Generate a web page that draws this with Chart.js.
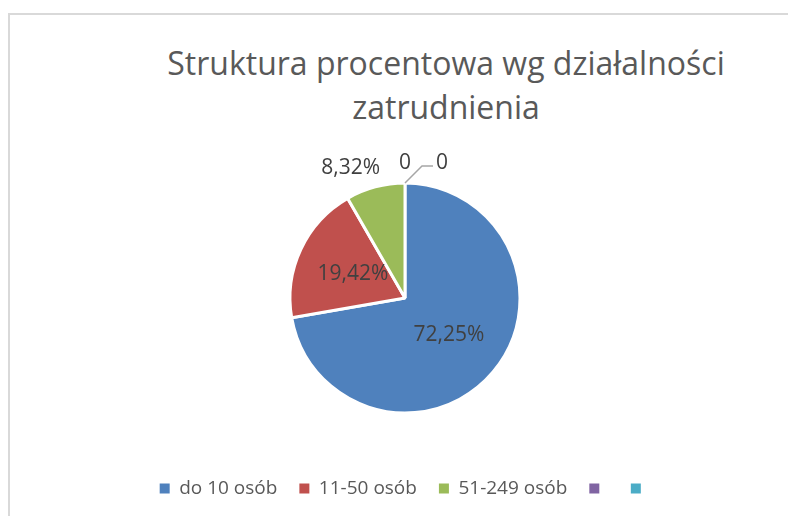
<!DOCTYPE html>
<html lang="pl">
<head>
<meta charset="utf-8">
<title>Struktura procentowa wg działalności zatrudnienia</title>
<script src="https://cdn.jsdelivr.net/npm/chart.js@4.4.1/dist/chart.umd.min.js"></script>
<style>
    html, body { margin: 0; padding: 0; background: #fff; overflow: hidden; }
    .frame {
        position: absolute; left: 8px; top: 13px; width: 900px; height: 600px;
        border-left: 2px solid #d9d9d9; border-top: 2px solid #d9d9d9;
    }
    .title {
        position: absolute; left: 0; top: 41px; width: 892px;
        text-align: center; font-family: 'Open Sans', sans-serif;
        font-size: 32px; line-height: 44px; color: #595959;
    }
    #chart { position: absolute; left: 0; top: 0; }
</style>
</head>
<body>
<div class="frame"></div>
<div class="title">Struktura procentowa wg działalności<br>zatrudnienia</div>
<canvas id="chart" width="788" height="516"></canvas>
<script>
var categories = ['do 10 osób', '11-50 osób', '51-249 osób', '', ''];
var shares = [72.25, 19.42, 8.32, 0, 0];
var sliceColors = ['#4f81bd', '#c0504d', '#9bbb59', '#8064a2', '#4bacc6'];
var labelPlacement = ['inside', 'inside', 'outside', 'outside', 'outside'];

function formatShare(v) {
    return v === 0 ? '0' : v.toFixed(2).replace('.', ',') + '%';
}

// value labels on / next to each slice
var sliceLabels = {
    id: 'sliceLabels',
    afterDatasetsDraw: function (chart) {
        var ctx = chart.ctx;
        var meta = chart.getDatasetMeta(0);
        var values = chart.data.datasets[0].data;
        var used = [];
        ctx.save();
        ctx.font = '21px "Open Sans"';
        ctx.fillStyle = '#404040';
        ctx.textBaseline = 'middle';
        meta.data.forEach(function (arc, i) {
            var text = formatShare(values[i]);
            var p = arc.getProps(['x', 'y', 'startAngle', 'endAngle', 'outerRadius'], true);
            var mid = (p.startAngle + p.endAngle) / 2;
            var dx = Math.cos(mid), dy = Math.sin(mid);

            if (labelPlacement[i] === 'inside') {
                var c = arc.tooltipPosition(true);
                ctx.textAlign = 'center';
                ctx.fillText(text, c.x, c.y);
                return;
            }

            var lx = p.x + dx * (p.outerRadius + 20);
            var ly = p.y + dy * (p.outerRadius + 20);
            var clash = used.some(function (u) {
                return Math.abs(u.x - lx) < 20 && Math.abs(u.y - ly) < 15;
            });

            if (clash) {
                // push the label aside and connect it with a leader line
                var ex = p.x + dx * p.outerRadius, ey = p.y + dy * p.outerRadius;
                ctx.strokeStyle = '#a6a6a6';
                ctx.lineWidth = 1.5;
                ctx.beginPath();
                ctx.moveTo(ex, ey);
                ctx.lineTo(ex + 17, ey - 17);
                ctx.lineTo(ex + 28, ey - 17);
                ctx.stroke();
                ctx.textAlign = 'left';
                ctx.fillText(text, ex + 31, ey - 20);
                used.push({ x: ex + 36, y: ey - 20 });
                return;
            }

            if (dx < -0.1) {
                ctx.textAlign = 'right';
                ctx.fillText(text, lx + 10, ly);
            } else if (dx > 0.1) {
                ctx.textAlign = 'left';
                ctx.fillText(text, lx - 10, ly);
            } else {
                ctx.textAlign = 'center';
                ctx.fillText(text, lx, ly);
            }
            used.push({ x: lx, y: ly });
        });
        ctx.restore();
    }
};

new Chart(document.getElementById('chart'), {
    type: 'pie',
    data: {
        labels: categories,
        datasets: [{
            data: shares,
            backgroundColor: sliceColors,
            borderColor: '#ffffff',
            borderWidth: 3
        }]
    },
    options: {
        responsive: false,
        animation: false,
        events: [],
        radius: 115,
        layout: {
            padding: { left: 22, right: 0, top: 139, bottom: 8 }
        },
        plugins: {
            title: { display: false },
            tooltip: { enabled: false },
            legend: {
                position: 'bottom',
                labels: {
                    boxWidth: 10,
                    boxHeight: 10,
                    padding: 22,
                    color: '#595959',
                    font: { family: 'Open Sans', size: 19 },
                    // solid squares, without the white slice border
                    generateLabels: function (chart) {
                        var items = Chart.overrides.doughnut.plugins.legend.labels.generateLabels(chart);
                        items.forEach(function (item) {
                            item.lineWidth = 0;
                            item.strokeStyle = item.fillStyle;
                        });
                        return items;
                    }
                }
            }
        }
    },
    plugins: [sliceLabels]
});
</script>
</body>
</html>
